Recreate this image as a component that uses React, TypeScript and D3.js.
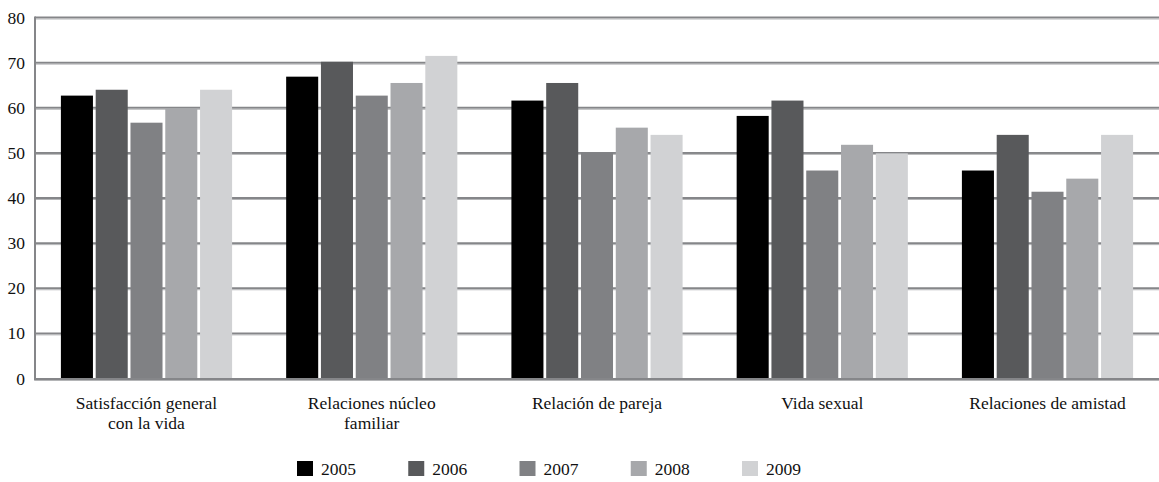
import React from "react";
import * as d3 from "d3";

const categories = [
  ["Satisfacción general", "con la vida"],
  ["Relaciones núcleo", "familiar"],
  ["Relación de pareja"],
  ["Vida sexual"],
  ["Relaciones de amistad"],
];
const years = ["2005", "2006", "2007", "2008", "2009"];
const colors = ["#000000", "#58595b", "#808184", "#a7a8ab", "#d1d2d4"];
// values per category, in year order
const values = [
  [62.8, 64.1, 56.8, 60.0, 64.1],
  [67.0, 70.3, 62.8, 65.6, 71.6],
  [61.7, 65.6, 50.2, 55.7, 54.1],
  [58.3, 61.7, 46.2, 51.9, 50.0],
  [46.2, 54.1, 41.5, 44.4, 54.1],
];
const yTicks = [0, 10, 20, 30, 40, 50, 60, 70, 80];

const W = 1159;
const H = 482;
const left = 35;
const right = 1159;
const top = 18;
const bottom = 379;
const textStyle = { fontFamily: '"Liberation Serif"' };
const fs = 17.5;

export default function App() {
  const y = d3.scaleLinear().domain([0, 80]).range([bottom, top]);
  const x0 = d3
    .scaleBand<number>()
    .domain(d3.range(categories.length))
    .range([left, right])
    .paddingInner(0.24)
    .paddingOuter(0.115);
  const x1 = d3
    .scaleBand<number>()
    .domain(d3.range(years.length))
    .range([0, x0.bandwidth()])
    .paddingInner(0.079)
    .paddingOuter(0);
  const legendX = d3.scaleLinear().domain([0, 4]).range([297, 742]);

  return (
    <svg
      width={W}
      height={H}
      style={{ position: "absolute", left: 0, top: 0, background: "#fff" }}
    >
      {yTicks.map((t) => (
        <g key={t}>
          {t > 0 && (
            <>
              <line x1={left} x2={right} y1={y(t) - 0.5} y2={y(t) - 0.5} stroke="#858689" strokeWidth={2} />
              <line x1={left} x2={right} y1={y(t) + 1} y2={y(t) + 1} stroke="#b4b5b7" strokeWidth={1} />
            </>
          )}
          <text x={25} y={y(t) + 5.5} textAnchor="end" fontSize={fs} fill="#111" style={textStyle}>
            {t}
          </text>
        </g>
      ))}
      <line x1={left} x2={left} y1={top - 1.5} y2={bottom + 1.5} stroke="#858689" strokeWidth={2} />
      {values.map((row, ci) => (
        <g key={ci} transform={`translate(${x0(ci)},0)`}>
          {row.map((v, si) => (
            <rect
              key={si}
              x={x1(si)}
              y={y(v)}
              width={x1.bandwidth()}
              height={bottom - y(v)}
              fill={colors[si]}
            />
          ))}
        </g>
      ))}
      <line x1={left} x2={right} y1={bottom} y2={bottom} stroke="#858689" strokeWidth={2} />
      <line x1={left} x2={right} y1={bottom + 1.5} y2={bottom + 1.5} stroke="#b4b5b7" strokeWidth={1} />
      {categories.map((lines, ci) => (
        <text
          key={ci}
          x={(x0(ci) as number) + x0.bandwidth() / 2}
          y={409}
          textAnchor="middle"
          fontSize={fs}
          fill="#111"
          style={textStyle}
        >
          {lines.map((l, li) => (
            <tspan key={li} x={(x0(ci) as number) + x0.bandwidth() / 2} dy={li === 0 ? 0 : 19.5}>
              {l}
            </tspan>
          ))}
        </text>
      ))}
      {years.map((yr, i) => (
        <g key={yr} transform={`translate(${legendX(i)},461)`}>
          <rect x={0} y={0} width={16} height={15} fill={colors[i]} />
          <text x={24} y={14} fontSize={fs} fill="#111" style={textStyle}>
            {yr}
          </text>
        </g>
      ))}
    </svg>
  );
}
